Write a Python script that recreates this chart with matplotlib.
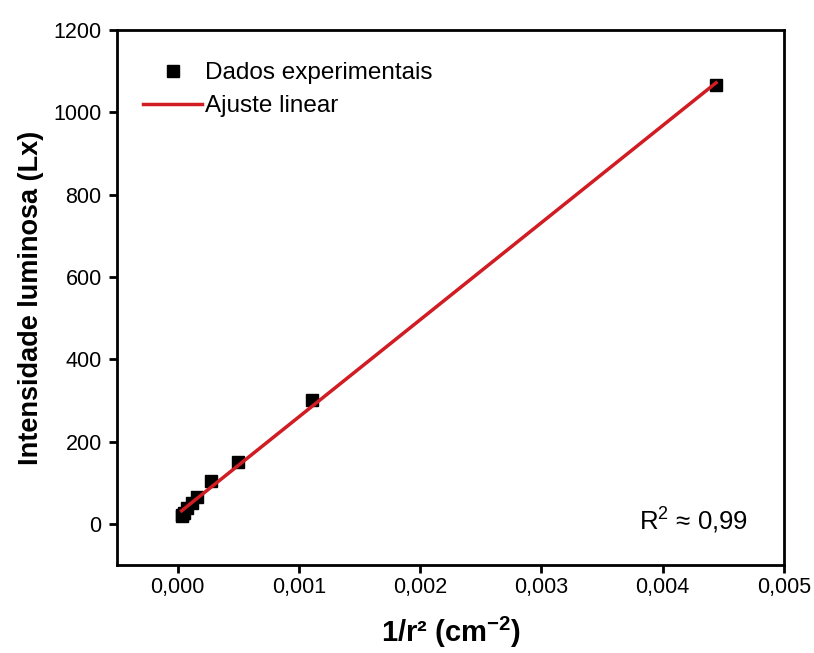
import numpy as np
import matplotlib as mpl
mpl.use('agg')
import matplotlib.pyplot as plt
from matplotlib.ticker import FuncFormatter, MultipleLocator

plt.rcParams['font.family'] = ['Liberation Sans', 'DejaVu Sans']
plt.rcParams['mathtext.fontset'] = 'custom'
plt.rcParams['mathtext.rm'] = 'Liberation Sans'
plt.rcParams['mathtext.bf'] = 'Liberation Sans:bold'

# 1/r^2 (cm^-2) and intensity (Lx)
inv_r2 = np.array([0.00444, 0.00111, 0.000494, 0.000275, 0.000162,
                   0.000115, 0.000076, 0.000052, 0.000040, 0.000033])
lux = np.array([1066, 302, 150, 105, 64, 50, 38, 27, 22, 19])

coef = np.polyfit(inv_r2, lux, 1)
xfit = np.array([inv_r2.min(), inv_r2.max()])
yfit = np.polyval(coef, xfit)

fig = plt.figure(figsize=(8.14, 6.53), dpi=100)
ax = fig.add_axes([0.1437, 0.1348, 0.8194, 0.8192])

ax.plot(inv_r2, lux, ls='none', marker='s', color='black', ms=8,
        label='Dados experimentais', zorder=3)
ax.plot(xfit, yfit, '-', color='#d01c22', lw=2.5, label='Ajuste linear', zorder=4)

ax.set_xlim(-0.0005, 0.005)
ax.set_ylim(-100, 1200)
ax.xaxis.set_major_locator(MultipleLocator(0.001))
ax.yaxis.set_major_locator(MultipleLocator(200))
ax.xaxis.set_major_formatter(FuncFormatter(lambda v, p: f'{v:.3f}'.replace('.', ',')))
ax.yaxis.set_major_formatter(FuncFormatter(lambda v, p: f'{v:.0f}'))

for s in ax.spines.values():
    s.set_linewidth(2)
ax.tick_params(direction='out', length=6, width=2, labelsize=15.5)
ax.tick_params(axis='x', pad=3)
ax.tick_params(axis='y', pad=5)

ax.set_xlabel('1/r² (cm$^{\\mathbf{-2}}$)', fontsize=21, fontweight='bold', labelpad=12)
ax.set_ylabel('Intensidade luminosa (Lx)', fontsize=19.5, fontweight='bold', labelpad=7)

ax.text(0.865, 0.084, 'R$^2$ ≈ 0,99', transform=ax.transAxes, fontsize=18.5,
        ha='center', va='center')

ax.legend(loc='upper left', frameon=False, fontsize=17.5, handlelength=2.4,
          handletextpad=0.15, labelspacing=0.45, borderaxespad=0.0,
          bbox_to_anchor=(0.025, 0.958))

plt.savefig('out.png', dpi=100)
